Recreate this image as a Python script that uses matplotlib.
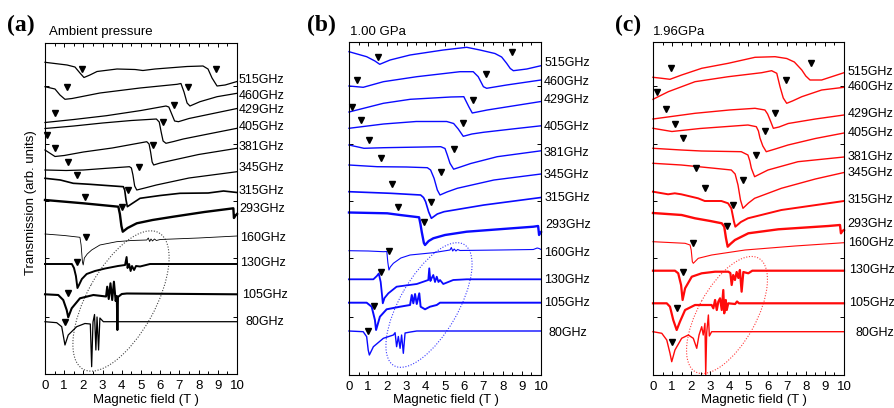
import matplotlib.pyplot as plt
from matplotlib.patches import Ellipse
from matplotlib.transforms import Affine2D, blended_transform_factory

plt.rcParams['font.family'] = ['Liberation Sans', 'DejaVu Sans']

# frequency of each spectrum, top to bottom
freqs = ['515GHz', '460GHz', '429GHz', '405GHz', '381GHz', '345GHz',
         '315GHz', '293GHz', '160GHz', '130GHz', '105GHz', '80GHz']

# spectra: (magnetic field T, stacked transmission, arb. units - grows downward)
# ---- (a) ambient pressure
a_515 = [(0, 62.3), (1.15, 65), (1.56, 67), (1.82, 73), (2.03, 77.5), (2.34, 75), (2.71, 71.5),
         (3.75, 69), (4.69, 69.5), (5.10, 70.5), (5.73, 69), (7.40, 66.5), (8.23, 66), (8.49, 69),
         (8.70, 78), (8.96, 86), (9.38, 85), (10, 81.5)]
a_460 = [(0, 86.7), (0.52, 89), (0.78, 95), (1.04, 99.3), (1.41, 98.5), (2.86, 93), (4.95, 88),
         (6.88, 84.3), (7.08, 83.5), (7.24, 92), (7.40, 103), (7.55, 106), (8.07, 101.7),
         (8.96, 96.7), (10, 93.3)]
a_429 = [(0, 122.5), (1.5, 119.5), (3.2, 115.7), (5.0, 110.5), (6.3, 106), (6.45, 107), (6.6, 114),
         (6.75, 121), (6.95, 121.7), (7.5, 118.5), (9.0, 112.5), (10, 108.5)]
a_405 = [(0, 128.5), (1.5, 126), (3.0, 123), (4.5, 120.5), (5.8, 119), (5.95, 122), (6.05, 132),
         (6.15, 141), (6.3, 143.3), (6.7, 141.5), (7.2, 139), (8.5, 134), (10, 128.3)]
a_381 = [(0, 150), (0.52, 156.5), (1.0, 155.5), (2.0, 152), (3.5, 148), (5.30, 141.7), (5.42, 144),
         (5.5, 152), (5.58, 162), (5.66, 165), (6.0, 163), (6.7, 160), (8.0, 154.5), (10, 148.3)]
a_345 = [(0, 170), (1.1, 170.5), (2.0, 170), (3.2, 168.3), (4.4, 166.7), (4.5, 168), (4.58, 175),
         (4.67, 186), (4.78, 190), (5.2, 188), (5.8, 185), (7.5, 178), (10, 171.7)]
a_315 = [(0, 178.3), (0.8, 180), (1.47, 183.3), (2.34, 184.3), (3.2, 185.5), (4.08, 186.7),
         (4.15, 190), (4.22, 200), (4.29, 206.7), (4.5, 204), (4.95, 198.3), (6.0, 195.5),
         (7.03, 193.3), (8.5, 193), (9.3, 191), (10, 192.5)]
a_293 = [(0, 200), (2.0, 203.3), (3.82, 206.7), (3.9, 214), (3.98, 226), (4.05, 231.7), (4.3, 228),
         (4.78, 223.3), (5.6, 220), (6.68, 216.7), (8.3, 212), (9.81, 208.3), (9.84, 218),
         (9.9, 216), (10, 214)]
a_160 = [(0, 234), (1.0, 235.5), (1.82, 237.3), (1.88, 245), (1.95, 262), (1.99, 265), (2.05, 258),
         (2.2, 254), (2.43, 250), (2.86, 245), (3.73, 241.7), (4.5, 240.5), (5.3, 240), (5.38, 238),
         (5.45, 241.5), (5.52, 239), (5.6, 241), (5.7, 239), (5.8, 240.5), (6.0, 239.5), (8.0, 238),
         (10, 236)]
a_130 = [(0, 264), (1.4, 264), (1.51, 268), (1.61, 276), (1.69, 288), (1.77, 285), (1.92, 279),
         (2.17, 274), (2.6, 271), (3.13, 268.5), (3.8, 266), (4.17, 265), (4.25, 257), (4.3, 268),
         (4.38, 264), (4.46, 271), (4.53, 266), (4.64, 270), (4.74, 266), (4.95, 266.5),
         (5.47, 264), (10, 264)]
a_105 = [(0, 294.3), (0.69, 295), (0.95, 300), (1.13, 310), (1.21, 317.3), (1.39, 308.3),
         (1.82, 298.3), (2.52, 295), (3.18, 296.5), (3.24, 286.7), (3.32, 299), (3.41, 283.3),
         (3.5, 300), (3.59, 281.7), (3.68, 301), (3.74, 296), (3.77, 330), (3.8, 297), (4.0, 294),
         (4.26, 293.5), (10, 294.3)]
a_80 = [(0, 321.7), (0.61, 322.7), (0.87, 326.7), (1.04, 345), (1.21, 335), (1.65, 326.7),
        (2.08, 323.5), (2.36, 324), (2.43, 366.7), (2.5, 322), (2.58, 314.5), (2.65, 350),
        (2.71, 317), (2.79, 350), (2.86, 318), (3.04, 321.7), (10, 321.7)]

# ---- (b) 1.00 GPa
b_515 = [(0, 51.7), (0.92, 56.7), (1.35, 61), (1.6, 64.3), (2.14, 60), (3.18, 55), (4.91, 50),
         (6.13, 47.3), (6.82, 50), (7.6, 53.5), (7.95, 57), (8.21, 63.3), (8.4, 68.5), (8.56, 70.7),
         (9.26, 69), (10, 65.7)]
b_460 = [(0, 86), (0.74, 87.3), (1.79, 81.7), (3.53, 76.7), (5.78, 71.7), (6.47, 71.7),
         (6.73, 76.7), (7.0, 86.7), (7.17, 88.3), (8.21, 85), (10, 80)]
b_429 = [(0, 112), (1.79, 103.3), (3.19, 99.3), (5.3, 97), (5.98, 96.7), (6.24, 106.7),
         (6.42, 113), (7.2, 110), (10, 101.5)]
b_405 = [(0, 128.3), (1.8, 124), (3.5, 121.5), (5.09, 121.5), (5.45, 123.5), (5.69, 129),
         (5.95, 136.3), (6.4, 134), (7.0, 132.3), (8.5, 129), (10, 125.8)]
b_381 = [(0, 145), (0.78, 148.3), (1.82, 147.7), (4.78, 146.7), (5.0, 148.5), (5.12, 155),
         (5.26, 163.3), (5.45, 169.2), (5.8, 167), (6.34, 163.5), (7.72, 156.7), (10, 150.8)]
b_345 = [(0, 165), (1.47, 166.7), (3.0, 167), (4.08, 167.7), (4.25, 170), (4.43, 178.3),
         (4.6, 190), (4.74, 195), (5.1, 192), (5.64, 188.3), (7.55, 180), (10, 174)]
b_315 = [(0, 191.7), (2.17, 193.3), (3.73, 195), (3.88, 197.5), (3.99, 201.7), (4.15, 212),
         (4.29, 218.3), (4.6, 214), (4.95, 211.7), (7.03, 205), (10, 197.5)]
b_293 = [(0, 212.5), (1.99, 213.3), (2.66, 215), (3.65, 217.3), (3.72, 224), (3.79, 232),
         (3.9, 243), (3.96, 245), (4.15, 241), (4.39, 238.3), (5.0, 235), (6.13, 231.7), (8.0, 229),
         (9.6, 226.7), (9.85, 226), (9.9, 235), (9.95, 233), (10, 232)]
b_160 = [(0, 250.7), (1.0, 251), (1.79, 251.7), (1.97, 251.5), (2.02, 262), (2.08, 270),
         (2.15, 267), (2.31, 263.3), (2.7, 258), (3.18, 255), (4.39, 252.7), (5.26, 250),
         (5.33, 247.5), (5.4, 251), (5.48, 249), (5.57, 251), (5.66, 249.5), (5.78, 250.5),
         (7.86, 250), (9.6, 249.5), (9.8, 248), (9.9, 248.5), (10, 249.5)]
b_130 = [(0, 279.3), (1.27, 279.3), (1.45, 276), (1.55, 273.5), (1.65, 282), (1.72, 295),
         (1.76, 303.3), (1.85, 298), (2.05, 293.3), (2.48, 286.7), (3.53, 284), (4.13, 280),
         (4.18, 268.3), (4.24, 281), (4.31, 278), (4.39, 275), (4.48, 282), (4.57, 276.7),
         (4.66, 282), (4.74, 280), (4.91, 284), (5.43, 280), (6.13, 279.3), (10, 279.3)]
b_105 = [(0, 302.7), (0.92, 302.7), (1.18, 306.7), (1.35, 320), (1.41, 330), (1.61, 316.7),
         (1.96, 309.3), (2.66, 306.7), (3.18, 305), (3.27, 295), (3.35, 303.3), (3.44, 294),
         (3.53, 304), (3.66, 293.3), (3.73, 306.7), (3.96, 309.3), (4.22, 306.7), (4.57, 305),
         (4.74, 302.7), (10, 302.7)]
b_80 = [(0, 331), (0.74, 331.7), (0.92, 336.7), (1.0, 350), (1.06, 355), (1.27, 346.7),
        (1.79, 338.3), (2.31, 335), (2.4, 332.7), (2.48, 346.7), (2.57, 336.5), (2.66, 348.3),
        (2.74, 335), (2.83, 353.3), (2.92, 333), (3.2, 332), (3.53, 331), (10, 331)]

# ---- (c) 1.96 GPa
c_515 = [(0, 77.3), (0.46, 78.3), (0.89, 79.3), (1.5, 75), (2.55, 68.3), (3.94, 63.3),
         (5.34, 57.3), (6.39, 56.7), (7.0, 58.5), (7.4, 62), (7.79, 70), (8.0, 76), (8.22, 80),
         (8.83, 80), (10, 72.7)]
c_460 = [(0, 99.3), (0.8, 91.7), (2.2, 81.7), (3.94, 76.7), (5.69, 72.7), (6.21, 70.7),
         (6.48, 73.3), (6.65, 86.7), (6.82, 98), (7.0, 103.3), (7.3, 101), (7.79, 96.7),
         (8.83, 90), (10, 87.3)]
c_429 = [(0, 119), (2.2, 113.3), (4.0, 110), (5.34, 108.3), (5.86, 110), (6.0, 114), (6.13, 120),
         (6.3, 128.3), (6.6, 127), (7.08, 123.5), (8.5, 119), (10, 115)]
c_405 = [(0, 128.3), (0.99, 131.5), (2.46, 128.5), (4.97, 125), (5.41, 126.7), (5.52, 131),
         (5.6, 138), (5.75, 146), (5.93, 151.7), (6.4, 149), (7.07, 145), (8.5, 138.5), (10, 133)]
c_381 = [(0, 148.3), (1.48, 150), (2.53, 151), (4.62, 151.7), (4.97, 155), (5.07, 161),
         (5.15, 168.3), (5.32, 176.7), (5.6, 174), (6.02, 170), (7.59, 161.7), (10, 157)]
c_345 = [(0, 163.3), (1.48, 165), (3.23, 168.3), (4.1, 170), (4.3, 174), (4.45, 185), (4.58, 200),
         (4.71, 208.3), (5.0, 203), (5.32, 198.3), (6.72, 188.3), (8.5, 179), (10, 172.5)]
c_315 = [(0, 191.7), (0.79, 194.3), (1.14, 193.3), (1.48, 194.3), (2.36, 198.3), (2.71, 201),
         (3.58, 201), (3.93, 203.3), (4.1, 208.3), (4.24, 221.7), (4.31, 226.7), (4.6, 222),
         (4.97, 218.3), (6.72, 210), (10, 201)]
c_293 = [(0, 213), (1.5, 215), (2.2, 218.3), (3.0, 221), (3.6, 223.3), (3.73, 226.7), (3.82, 238),
         (3.91, 246.7), (4.05, 244), (4.29, 240), (4.99, 233.3), (6.56, 229.3), (9.18, 226),
         (9.79, 225), (9.84, 233.3), (9.92, 231), (10, 230)]
c_160 = [(0, 241.7), (1.68, 243.3), (1.94, 245), (2.0, 250), (2.06, 261.7), (2.11, 263.3),
         (2.37, 258.3), (3.07, 255), (4.82, 250), (7.43, 246), (10, 242.7)]
c_130 = [(0, 270.7), (1.15, 270.7), (1.32, 273.3), (1.47, 285), (1.55, 300), (1.68, 288.3),
         (2.03, 276.7), (2.55, 273.3), (3.25, 271.7), (3.94, 271.7), (4.05, 273), (4.12, 285),
         (4.2, 275), (4.29, 280), (4.38, 272), (4.47, 278), (4.55, 270), (4.64, 291.7), (4.73, 272),
         (4.99, 273.3), (5.2, 270.7), (10, 270.7)]
c_105 = [(0, 303.3), (0.72, 303.3), (0.89, 306.7), (1.06, 320), (1.24, 330), (1.41, 321.7),
         (1.68, 310), (2.2, 305), (3.07, 305), (3.16, 308.3), (3.25, 300), (3.34, 310),
         (3.42, 301.7), (3.51, 298.3), (3.6, 310), (3.68, 290), (3.73, 313.3), (3.81, 300),
         (3.86, 310), (3.94, 303.3), (4.3, 304), (4.4, 301.5), (4.5, 303.3), (10, 303.3)]
c_80 = [(0, 331.7), (0.46, 333.3), (0.72, 340), (0.89, 353.3), (0.98, 361.7), (1.15, 350),
        (1.5, 338.3), (1.85, 335), (2.11, 338.3), (2.29, 348.3), (2.41, 335), (2.55, 326.7),
        (2.63, 335), (2.72, 323.3), (2.76, 375), (2.81, 333), (2.9, 315), (2.95, 336),
        (3.07, 331.7), (10, 331.7)]

# resonance markers (field, level)
a_marks = [(1.93, 69), (8.91, 69), (1.15, 87), (7.45, 87), (0.52, 112.5), (6.72, 104.5),
           (0.09, 134.5), (6.16, 121.7), (0.52, 148.3), (5.64, 145), (1.21, 161.7), (4.91, 166.7),
           (1.65, 175), (4.34, 190), (2.08, 196.7), (4.0, 206.7), (2.13, 237.3), (1.68, 261.7),
           (1.21, 293.3), (1.04, 321.7)]
b_marks = [(1.53, 56.7), (8.47, 51.7), (0.43, 80), (7.12, 74), (0.14, 106.5), (6.47, 100),
           (0.61, 120), (5.95, 123.3), (1.04, 140), (5.47, 149), (1.65, 158.3), (4.78, 172.3),
           (2.22, 184.3), (4.29, 201.7), (2.57, 207.3), (3.91, 221.7), (2.1, 250.7), (1.67, 271.7),
           (1.3, 306), (1.0, 331)]
c_marks = [(0.94, 68.3), (8.27, 63.3), (0.19, 91.7), (6.95, 80), (0.69, 108.5), (6.39, 113.3),
           (1.13, 124), (5.86, 131), (1.57, 138.3), (5.37, 155), (2.23, 167.5), (4.7, 180),
           (2.73, 188.3), (4.2, 205), (3.86, 226), (2.11, 242.7), (1.59, 271.7), (1.24, 308.3),
           (0.98, 341.7)]

# level at which each frequency label sits
a_label_y = [80, 96, 110, 127, 147, 168.3, 190.7, 209, 238.3, 263.3, 295, 321.7]
b_label_y = [63.3, 81.7, 100, 126.7, 153.3, 175, 198.3, 225, 252.7, 280, 303.3, 332.7]
c_label_y = [71.7, 86.7, 114, 132.7, 156.7, 173.3, 200, 224, 243.3, 270, 303.3, 333.3]

W, H = 895, 408
fig = plt.figure(figsize=(W / 100, H / 100), dpi=100)

panels = [
    dict(box=(45, 43, 237, 374), color='black', ell_color='#444444', tag='(a)', tag_x=7,
         sub='Ambient pressure', sub_x=49,
         traces=[a_515, a_460, a_429, a_405, a_381, a_345, a_315, a_293, a_160, a_130, a_105, a_80],
         lw=[0.9, 0.9, 0.9, 0.9, 0.9, 0.9, 1.2, 1.7, 0.6, 1.4, 1.5, 0.9],
         marks=a_marks, label_y=a_label_y,
         label_x=[1.01] * 8 + [1.016, 1.016, 1.024, 1.045],
         ell=(76, 301, 156, 68, -61), xlab=146),
    dict(box=(349, 42, 541, 375), color='#0a0aff', ell_color='#3a3aff', tag='(b)', tag_x=307,
         sub='1.00 GPa', sub_x=350,
         traces=[b_515, b_460, b_429, b_405, b_381, b_345, b_315, b_293, b_160, b_130, b_105, b_80],
         lw=[1.0, 1.0, 1.0, 1.0, 1.0, 1.0, 1.2, 1.7, 0.8, 1.3, 1.4, 1.0],
         marks=b_marks, label_y=b_label_y,
         label_x=[1.02, 1.012, 1.012, 1.012, 1.012, 1.012, 1.021, 1.021, 1.016, 1.016, 1.016, 1.038],
         ell=(80, 305, 140, 58, -60), xlab=446),
    dict(box=(653, 42, 844, 375), color='#ff0a0a', ell_color='#ff3a3a', tag='(c)', tag_x=615,
         sub='1.96GPa', sub_x=653,
         traces=[c_515, c_460, c_429, c_405, c_381, c_345, c_315, c_293, c_160, c_130, c_105, c_80],
         lw=[1.0, 1.0, 1.0, 1.0, 1.0, 1.0, 1.4, 1.7, 0.8, 1.6, 1.6, 1.0],
         marks=c_marks, label_y=c_label_y,
         label_x=[1.019] * 9 + [1.026, 1.026, 1.058],
         ell=(74, 315, 130, 58, -61), xlab=754),
]

for p in panels:
    x0, y0, x1, y1 = p['box']
    ax = fig.add_axes([x0 / W, 1 - y1 / H, (x1 - x0) / W, (y1 - y0) / H])
    ax.set_xlim(0, 10)
    ax.set_ylim(y1, y0)

    for tr, lw in zip(p['traces'], p['lw']):
        xs = [t[0] for t in tr]
        ys = [t[1] for t in tr]
        ax.plot(xs, ys, color=p['color'], lw=lw, solid_joinstyle='round', clip_on=False)

    ax.plot([m[0] for m in p['marks']], [m[1] for m in p['marks']], 'v', color='black',
            ms=5, linestyle='none', clip_on=False, zorder=5)

    # dotted ellipse round the impurity lines
    k = (x1 - x0) / 10.0
    ex, ey, ew, eh, ang = p['ell']
    ax.add_patch(Ellipse((ex, ey), ew, eh, angle=ang, fill=False, ls=(0, (1, 1.5)), lw=0.8,
                         edgecolor=p['ell_color'],
                         transform=Affine2D().scale(1 / k, 1) + ax.transData))

    tr_lab = blended_transform_factory(ax.transAxes, ax.transData)
    for lab, lx, ly in zip(freqs, p['label_x'], p['label_y']):
        ax.text(lx, ly, lab, transform=tr_lab, ha='left', va='center', fontsize=9)

    ax.set_xticks(range(11))
    ax.set_xticks([i + 0.5 for i in range(10)], minor=True)
    ax.set_yticks([86, 144, 201, 258, 317])
    ax.set_yticklabels([])
    ax.tick_params(axis='both', which='both', direction='in', top=True, right=True,
                   labelsize=9.5, pad=4, width=0.7)
    ax.tick_params(which='major', length=3)
    ax.tick_params(which='minor', length=2)
    for s in ax.spines.values():
        s.set_linewidth(0.8)

    fig.text(p['tag_x'] / W, 1 - 25 / H, p['tag'], fontsize=17, fontweight='bold',
             family='Liberation Serif', va='center', ha='left')
    fig.text(p['sub_x'] / W, 1 - 32 / H, p['sub'], fontsize=9.5, va='center', ha='left')
    fig.text(p['xlab'] / W, 1 - 400 / H, 'Magnetic field (T )', fontsize=9.5,
             va='center', ha='center')

fig.text(31 / W, 1 - 203 / H, 'Transmission (arb. units)', rotation=90, fontsize=9.5,
         va='center', ha='center')

fig.savefig('out.png', dpi=100)
